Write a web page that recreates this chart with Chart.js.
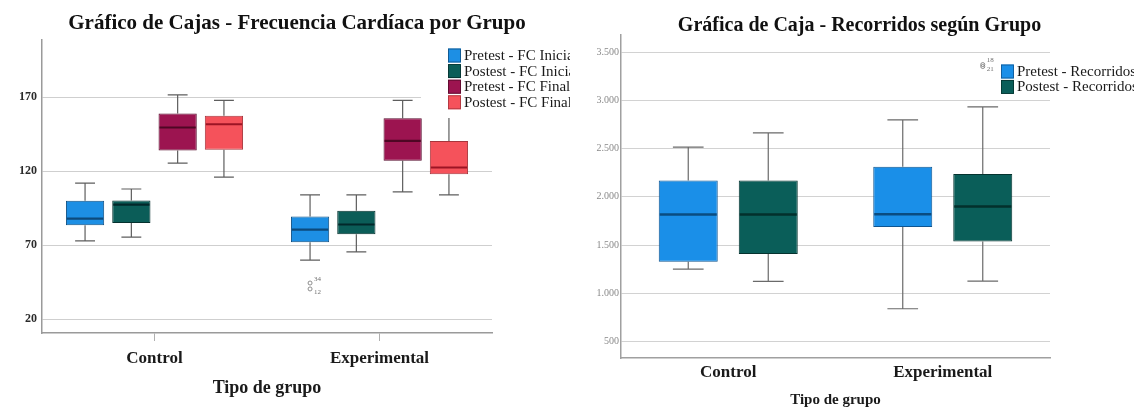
<!DOCTYPE html>
<html lang="es">
<head>
<meta charset="utf-8">
<title>Gráficos de cajas</title>
<script src="https://cdn.jsdelivr.net/npm/chart.js@4.4.1/dist/chart.umd.min.js"></script>
<style>
  html, body { margin: 0; padding: 0; background: #fff; }
  #wrap { position: relative; width: 1134px; height: 409px; overflow: hidden; background: #fff; }
  canvas { position: absolute; top: 0; }
  #fc { left: 0; }
  #rec { left: 570px; }
</style>
</head>
<body>
<div id="wrap">
  <canvas id="fc" width="570" height="409"></canvas>
  <canvas id="rec" width="564" height="409"></canvas>
</div>
<script>
// ---------- Datos ----------
const categories = ['Control', 'Experimental'];

// Frecuencia cardíaca: cada fila es una serie, cada columna un grupo [Control, Experimental]
const fcSeries   = ['Pretest - FC Inicial', 'Postest - FC Inicial', 'Pretest - FC Final', 'Postest - FC Final'];
const fcMin      = [[73, 60], [75.5, 65.5], [125.5, 106], [116, 104]];
const fcQ1       = [[83.5, 72], [85, 77.5], [134, 127], [134.5, 118]];
const fcMedian   = [[88, 80.5], [97.5, 84], [149.5, 140.5], [151.7, 122.5]];
const fcQ3       = [[100, 89.5], [100.2, 93.3], [159, 155.7], [157.5, 140.4]];
const fcMax      = [[112, 104], [108, 104], [171.5, 167.8], [167.8, 157.5]];
const fcOutliers = [
  { series: 0, group: 1, value: 44.5, id: '34' },
  { series: 0, group: 1, value: 40.5, id: '12' }
];
const fcTicks = [20, 70, 120, 170];

// Recorridos: [Control, Experimental]
const recSeries   = ['Pretest - Recorridos', 'Postest - Recorridos'];
const recMin      = [[1250, 839], [1122, 1126]];
const recQ1       = [[1326, 1686], [1406, 1537]];
const recMedian   = [[1816, 1820], [1816, 1900]];
const recQ3       = [[2169, 2311], [2169, 2238]];
const recMax      = [[2515, 2798], [2663, 2933]];
const recOutliers = [
  { series: 1, group: 1, value: 3372, id: '18' },
  { series: 1, group: 1, value: 3352, id: '21' }
];
const recTicks      = [500, 1000, 1500, 2000, 2500, 3000, 3500];
const recTickLabels = ['500', '1.000', '1.500', '2.000', '2.500', '3.000', '3.500'];

// ---------- Estilo ----------
const SERIF = "'Liberation Serif', 'Times New Roman', serif";
const fcFill    = ['#1d8fe4', '#0b5d58', '#9c1450', '#f5525b'];
const fcEdge    = ['#0f4f82', '#05312e', '#560a2b', '#a6353c'];
const fcMedCol  = ['#0c4a7c', '#02282a', '#4e0724', '#9c1424'];
const recFill   = ['#1a8fe8', '#0a5e59'];
const recEdge   = ['#0f5590', '#05332f'];
const recMedCol = ['#0a4c80', '#03302c'];

// Bigotes, medianas y atípicos dibujados sobre las cajas flotantes
const boxPlotPlugin = {
  id: 'boxWhiskers',
  beforeDatasetsDraw(chart, args, opts) {
    const { ctx } = chart;
    const y = chart.scales.y;
    chart.data.datasets.forEach((ds, i) => {
      const meta = chart.getDatasetMeta(i);
      meta.data.forEach((bar, j) => {
        const x = bar.x;
        const cap = bar.width * opts.capRatio / 2;
        const yMin = y.getPixelForValue(ds.stats.min[j]);
        const yMax = y.getPixelForValue(ds.stats.max[j]);
        const yQ1 = y.getPixelForValue(ds.data[j][0]);
        const yQ3 = y.getPixelForValue(ds.data[j][1]);
        ctx.save();
        ctx.strokeStyle = opts.whiskerColor;
        ctx.lineWidth = opts.whiskerWidth;
        ctx.beginPath();
        ctx.moveTo(x, yQ3); ctx.lineTo(x, yMax);
        ctx.moveTo(x, yQ1); ctx.lineTo(x, yMin);
        ctx.moveTo(x - cap, yMax); ctx.lineTo(x + cap, yMax);
        ctx.moveTo(x - cap, yMin); ctx.lineTo(x + cap, yMin);
        ctx.stroke();
        ctx.restore();
      });
    });
  },
  afterDatasetsDraw(chart, args, opts) {
    const { ctx } = chart;
    const y = chart.scales.y;
    chart.data.datasets.forEach((ds, i) => {
      const meta = chart.getDatasetMeta(i);
      meta.data.forEach((bar, j) => {
        const ym = y.getPixelForValue(ds.stats.median[j]);
        const half = bar.width / 2;
        ctx.save();
        ctx.strokeStyle = ds.medianColor;
        ctx.lineWidth = opts.medianWidth;
        ctx.beginPath();
        ctx.moveTo(bar.x - half + 1, ym);
        ctx.lineTo(bar.x + half - 1, ym);
        ctx.stroke();
        ctx.restore();
      });
    });
    (opts.outliers || []).forEach((o, k) => {
      const bar = chart.getDatasetMeta(o.series).data[o.group];
      const yo = y.getPixelForValue(o.value);
      ctx.save();
      ctx.strokeStyle = '#808080';
      ctx.lineWidth = 0.9;
      ctx.beginPath();
      ctx.arc(bar.x, yo, 2, 0, Math.PI * 2);
      ctx.stroke();
      ctx.fillStyle = '#707070';
      ctx.font = '7px ' + SERIF;
      ctx.textBaseline = 'middle';
      ctx.textAlign = 'left';
      ctx.fillText(o.id, bar.x + 4, yo + (k === 0 ? -4 : 3));
      ctx.restore();
    });
  }
};

// Título y leyenda interna
const decorPlugin = {
  id: 'decor',
  afterDraw(chart, args, opts) {
    const { ctx } = chart;
    ctx.save();
    // título
    ctx.fillStyle = '#111';
    ctx.font = opts.titleFont;
    ctx.textAlign = 'center';
    ctx.textBaseline = 'middle';
    ctx.fillText(opts.title, opts.titleX, opts.titleY);
    // fondo de la leyenda
    const b = opts.legendBg;
    ctx.fillStyle = '#fff';
    ctx.fillRect(b.x, b.y, b.w, b.h);
    // entradas de la leyenda
    ctx.font = opts.legendFont;
    ctx.textAlign = 'left';
    chart.data.datasets.forEach((ds, i) => {
      const cy = opts.legendY + i * opts.legendRow;
      ctx.fillStyle = ds.backgroundColor;
      ctx.fillRect(opts.legendX, cy - opts.box / 2, opts.box, opts.box + 1);
      ctx.strokeStyle = ds.borderColor;
      ctx.lineWidth = 0.8;
      ctx.strokeRect(opts.legendX + 0.5, cy - opts.box / 2 + 0.5, opts.box - 1, opts.box);
      ctx.fillStyle = '#1a1a1a';
      ctx.fillText(ds.label, opts.legendX + opts.box + 3, cy + 1);
    });
    ctx.restore();
  }
};

function makeDatasets(names, q1, q3, mn, md, mx, fill, edge, medCol) {
  return names.map((name, i) => ({
    label: name,
    data: categories.map((_, j) => [q1[i][j], q3[i][j]]),
    stats: { min: mn[i], median: md[i], max: mx[i] },
    backgroundColor: fill[i],
    borderColor: edge[i],
    medianColor: medCol[i],
    borderWidth: 1,
    borderSkipped: false
  }));
}

// ---------- Frecuencia cardíaca ----------
new Chart(document.getElementById('fc'), {
  type: 'bar',
  data: {
    labels: categories,
    datasets: makeDatasets(fcSeries, fcQ1, fcQ3, fcMin, fcMedian, fcMax, fcFill, fcEdge, fcMedCol)
  },
  options: {
    responsive: false,
    animation: false,
    events: [],
    categoryPercentage: 0.823,
    barPercentage: 0.826,
    layout: { padding: { left: 0, right: 78, top: 40, bottom: 0 } },
    plugins: {
      legend: { display: false },
      tooltip: { enabled: false },
      boxWhiskers: { capRatio: 0.52, whiskerColor: '#5e5e5e', whiskerWidth: 1.2, medianWidth: 2.2, outliers: fcOutliers },
      decor: {
        title: 'Gráfico de Cajas - Frecuencia Cardíaca por Grupo',
        titleFont: 'bold 21px ' + SERIF, titleX: 297, titleY: 24,
        legendBg: { x: 421, y: 45, w: 149, h: 73 },
        legendFont: '15px ' + SERIF, legendX: 448, legendY: 55, legendRow: 15.6, box: 13
      }
    },
    scales: {
      x: {
        grid: { display: true, drawOnChartArea: false, drawTicks: true, tickLength: 8, offset: false, color: '#b0b0b0' },
        border: { display: true, color: '#9a9a9a', width: 1.5 },
        ticks: { color: '#1a1a1a', padding: 7, font: { family: SERIF, size: 17, weight: 'bold' } },
        title: { display: true, text: 'Tipo de grupo', color: '#1a1a1a', padding: { top: 0, bottom: 10 }, font: { family: SERIF, size: 18, weight: 'bold' } },
        afterFit(s) { s.height = 76; }
      },
      y: {
        min: 10.75,
        max: 208.6,
        afterBuildTicks(s) { s.ticks = fcTicks.map(v => ({ value: v })); },
        grid: { color: '#cfcfcf', lineWidth: 1, drawTicks: false },
        border: { display: true, color: '#9a9a9a', width: 1.5 },
        ticks: { color: '#2a2a2a', padding: 5, font: { family: SERIF, size: 12, weight: 'bold' } },
        afterFit(s) { s.width = 42; }
      }
    }
  },
  plugins: [boxPlotPlugin, decorPlugin]
});

// ---------- Recorridos ----------
new Chart(document.getElementById('rec'), {
  type: 'bar',
  data: {
    labels: categories,
    datasets: makeDatasets(recSeries, recQ1, recQ3, recMin, recMedian, recMax, recFill, recEdge, recMedCol)
  },
  options: {
    responsive: false,
    animation: false,
    events: [],
    categoryPercentage: 0.746,
    barPercentage: 0.7375,
    layout: { padding: { left: 0, right: 84, top: 35, bottom: 0 } },
    plugins: {
      legend: { display: false },
      tooltip: { enabled: false },
      boxWhiskers: { capRatio: 0.52, whiskerColor: '#6a6a6a', whiskerWidth: 1.2, medianWidth: 2.4, outliers: recOutliers },
      decor: {
        title: 'Gráfica de Caja - Recorridos según Grupo',
        titleFont: 'bold 20px ' + SERIF, titleX: 289.5, titleY: 26,
        legendBg: { x: 429, y: 62, w: 135, h: 33 },
        legendFont: '15px ' + SERIF, legendX: 431, legendY: 71, legendRow: 15.4, box: 13
      }
    },
    scales: {
      x: {
        grid: { display: false, drawTicks: false },
        border: { display: true, color: '#a0a0a0', width: 1.5 },
        ticks: { color: '#1a1a1a', padding: 4, font: { family: SERIF, size: 17, weight: 'bold' } },
        title: { display: true, text: 'Tipo de grupo', color: '#1a1a1a', padding: { top: 0, bottom: 0 }, font: { family: SERIF, size: 15, weight: 'bold' } },
        afterFit(s) { s.height = 51; }
      },
      y: {
        min: 328,
        max: 3679,
        afterBuildTicks(s) { s.ticks = recTicks.map(v => ({ value: v })); },
        grid: { color: '#d2d2d2', lineWidth: 1, drawTicks: false },
        border: { display: true, color: '#a0a0a0', width: 1.5 },
        ticks: {
          color: '#8a8a8a', padding: 2,
          font: { family: SERIF, size: 10 },
          callback: (v, i) => recTickLabels[i]
        },
        afterFit(s) { s.width = 51; }
      }
    }
  },
  plugins: [boxPlotPlugin, decorPlugin]
});
</script>
</body>
</html>
